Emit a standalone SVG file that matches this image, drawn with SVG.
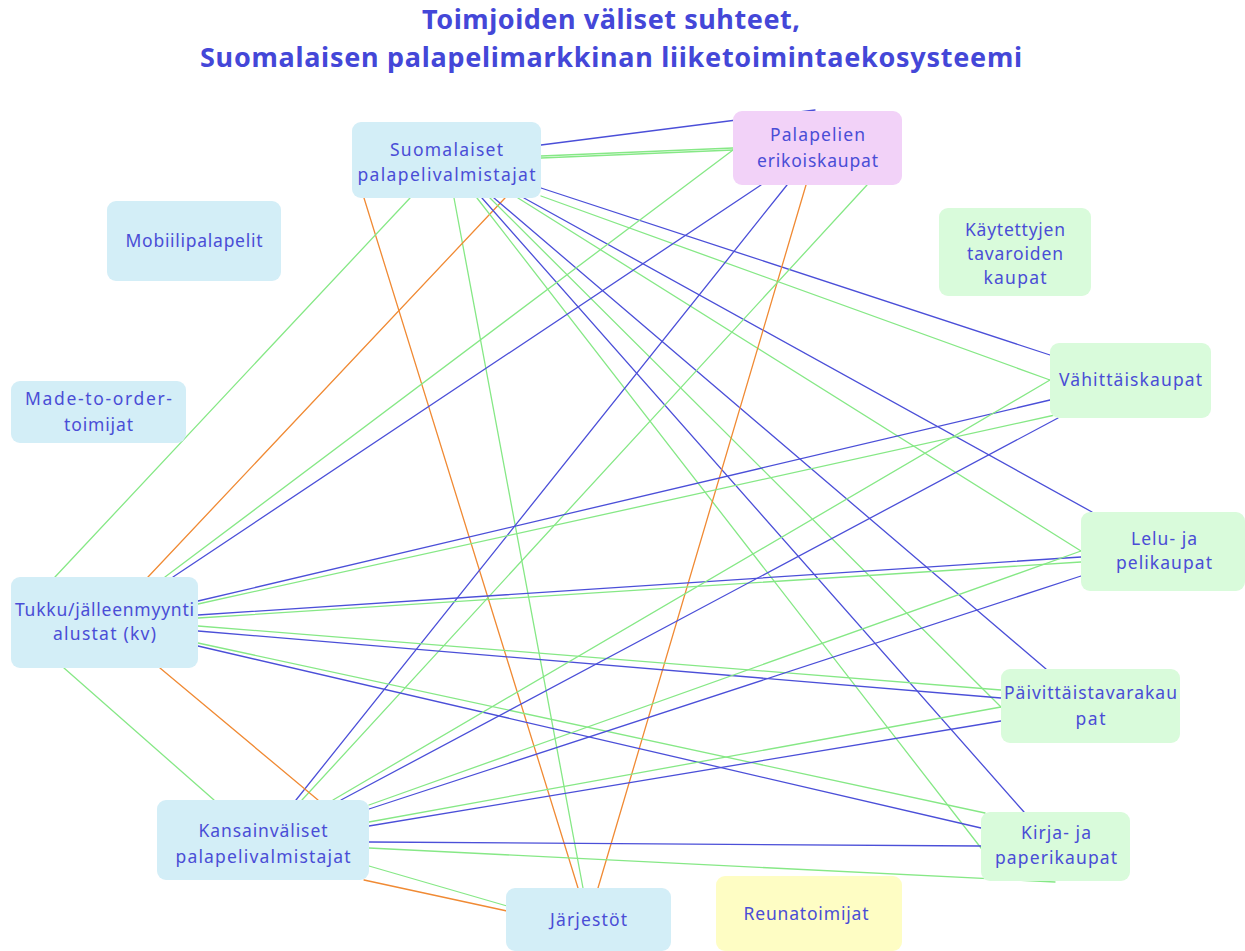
<svg xmlns="http://www.w3.org/2000/svg" width="1245" height="951" viewBox="0 0 1245 951">
  <style>
    .bg { fill: #ffffff; }
    .title { font-family: "Noto Sans", "Open Sans", sans-serif; font-weight: 700; font-size: 27px; fill: #4447d8; text-anchor: middle; }
    .lbl { font-family: "Noto Sans", "Open Sans", sans-serif; font-size: 17.5px; fill: #4a4dd6; text-anchor: middle; }
    .box { stroke: none; }
    .actor { fill: #d3eef7; }
    .shop { fill: #d9fbdb; }
    .special { fill: #f2d2f8; }
    .edge { fill: #fefdc4; }
    .c { fill: none; stroke-width: 1.3; stroke-linecap: round; }
    .b { stroke: #4b4fd8; }
    .g { stroke: #86e886; }
    .o { stroke: #f08a34; }
  </style>
  <rect class="bg" x="0" y="0" width="1245" height="951"/>

  <g id="title">
    <text class="title" x="611" y="29" textLength="378">Toimjoiden väliset suhteet,</text>
    <text class="title" x="611" y="67" textLength="822">Suomalaisen palapelimarkkinan liiketoimintaekosysteemi</text>
  </g>

  <g id="connectors">
    <!-- Suomalaiset palapelivalmistajat -->
    <path class="c g" d="M541,158 L733,150"/>
    <path class="c g" d="M541,156 L733,148"/>
    <path class="c b" d="M541,145 L815,110"/>
    <path class="c o" d="M364,198 L578,888"/>
    <path class="c g" d="M410,198 L55,577"/>
    <path class="c g" d="M454,198 L583,888"/>
    <path class="c o" d="M505,198 L148,577"/>
    <path class="c g" d="M477,198 L981,848"/>
    <path class="c b" d="M482,198 L1024,812"/>
    <path class="c b" d="M494,198 L1046,669"/>
    <path class="c g" d="M490,198 L1001,707"/>
    <path class="c g" d="M518,198 L1081,551"/>
    <path class="c b" d="M524,198 L1092,512"/>
    <path class="c g" d="M541,196 L1050,380"/>
    <path class="c b" d="M541,188 L1050,355"/>
    <!-- Palapelien erikoiskaupat -->
    <path class="c g" d="M733,150 L165,577"/>
    <path class="c b" d="M761,185 L173,577"/>
    <path class="c b" d="M787,185 L296,800"/>
    <path class="c o" d="M806,185 L598,888"/>
    <path class="c g" d="M867,185 L302,800"/>
    <!-- Tukku/jälleenmyynti alustat -->
    <path class="c g" d="M64,668 L214,800"/>
    <path class="c o" d="M160,668 L318,800"/>
    <path class="c b" d="M198,601 L1050,400"/>
    <path class="c g" d="M198,604 L1055,415"/>
    <path class="c b" d="M198,615 L1081,557"/>
    <path class="c g" d="M198,618 L1081,562"/>
    <path class="c g" d="M198,626 L1001,690"/>
    <path class="c b" d="M198,631 L1001,698"/>
    <path class="c g" d="M198,643 L985,813"/>
    <path class="c b" d="M198,646 L981,828"/>
    <!-- Kansainväliset palapelivalmistajat -->
    <path class="c g" d="M333,800 L1050,380"/>
    <path class="c b" d="M341,800 L1058,418"/>
    <path class="c g" d="M369,805 L1081,551"/>
    <path class="c b" d="M369,809 L1081,576"/>
    <path class="c g" d="M369,822 L1001,707"/>
    <path class="c b" d="M369,826 L1001,721"/>
    <path class="c b" d="M369,842 L981,846"/>
    <path class="c g" d="M369,848 L1055,882"/>
    <path class="c g" d="M369,866 L507,906"/>
    <path class="c o" d="M364,880 L507,911"/>
  </g>

  <g id="suomalaiset">
    <rect class="box actor" x="352" y="122" width="189" height="76" rx="9"/>
    <text class="lbl" x="446.5" y="156" textLength="113">Suomalaiset</text>
    <text class="lbl" x="446.5" y="181" textLength="178">palapelivalmistajat</text>
  </g>
  <g id="erikoiskaupat">
    <rect class="box special" x="733" y="111" width="169" height="74" rx="9"/>
    <text class="lbl" x="817.5" y="141" textLength="95">Palapelien</text>
    <text class="lbl" x="817.5" y="167" textLength="121">erikoiskaupat</text>
  </g>
  <g id="mobiili">
    <rect class="box actor" x="107" y="201" width="174" height="80" rx="9"/>
    <text class="lbl" x="194" y="247" textLength="137">Mobiilipalapelit</text>
  </g>
  <g id="kaytetyt">
    <rect class="box shop" x="939" y="208" width="152" height="88" rx="9"/>
    <text class="lbl" x="1015" y="236" textLength="100">Käytettyjen</text>
    <text class="lbl" x="1015" y="260" textLength="96">tavaroiden</text>
    <text class="lbl" x="1015" y="284" textLength="63">kaupat</text>
  </g>
  <g id="madetoorder">
    <rect class="box actor" x="11" y="381" width="175" height="62" rx="9"/>
    <text class="lbl" x="98.5" y="405" textLength="147">Made-to-order-</text>
    <text class="lbl" x="98.5" y="431" textLength="69">toimijat</text>
  </g>
  <g id="vahittais">
    <rect class="box shop" x="1050" y="343" width="161" height="75" rx="9"/>
    <text class="lbl" x="1130.5" y="386" textLength="143">Vähittäiskaupat</text>
  </g>
  <g id="lelu">
    <rect class="box shop" x="1081" y="512" width="164" height="79" rx="9"/>
    <text class="lbl" x="1164" y="545" textLength="66">Lelu- ja</text>
    <text class="lbl" x="1164" y="569" textLength="96">pelikaupat</text>
  </g>
  <g id="tukku">
    <rect class="box actor" x="11" y="577" width="187" height="91" rx="9"/>
    <text class="lbl" x="104.5" y="616" textLength="179">Tukku/jälleenmyynti</text>
    <text class="lbl" x="104.5" y="640" textLength="103">alustat (kv)</text>
  </g>
  <g id="paivittais">
    <rect class="box shop" x="1001" y="669" width="179" height="74" rx="9"/>
    <text class="lbl" x="1090.5" y="699" textLength="173">Päivittäistavarakau</text>
    <text class="lbl" x="1090.5" y="725" textLength="30">pat</text>
  </g>
  <g id="kansainvaliset">
    <rect class="box actor" x="157" y="800" width="212" height="80" rx="9"/>
    <text class="lbl" x="263" y="837" textLength="129">Kansainväliset</text>
    <text class="lbl" x="263" y="863" textLength="175">palapelivalmistajat</text>
  </g>
  <g id="kirja">
    <rect class="box shop" x="981" y="812" width="149" height="69" rx="9"/>
    <text class="lbl" x="1056" y="839" textLength="70">Kirja- ja</text>
    <text class="lbl" x="1056" y="864" textLength="122">paperikaupat</text>
  </g>
  <g id="jarjestot">
    <rect class="box actor" x="506" y="888" width="165" height="63" rx="9"/>
    <text class="lbl" x="588.5" y="926" textLength="77">Järjestöt</text>
  </g>
  <g id="reunatoimijat">
    <rect class="box edge" x="716" y="876" width="186" height="75" rx="9"/>
    <text class="lbl" x="806" y="920" textLength="125">Reunatoimijat</text>
  </g>
</svg>
